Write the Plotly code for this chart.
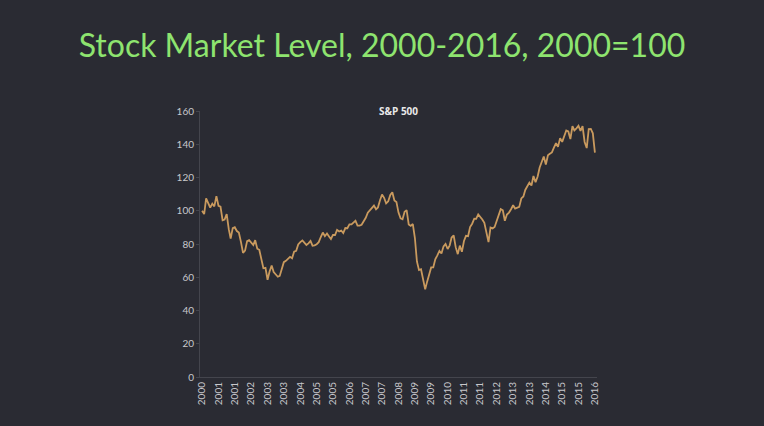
import pandas as pd
import plotly.graph_objects as go

# S&P 500, monthly, 2000 = 100
sp500 = [
    100.0, 98.0, 107.5, 104.2, 101.9, 104.3, 102.6, 108.8, 103.0, 102.5, 94.3, 94.7,   # 2000
    98.0, 88.9, 83.2, 89.6, 90.1, 87.8, 86.9, 81.3, 74.7, 76.0, 81.7, 82.3,            # 2001
    81.1, 79.4, 82.3, 77.2, 76.5, 71.0, 65.4, 65.7, 58.5, 63.5, 67.1, 63.1,            # 2002
    61.4, 60.3, 60.8, 65.8, 69.1, 69.9, 71.0, 72.3, 71.4, 75.4, 75.9, 79.7,            # 2003
    81.1, 82.1, 80.8, 79.4, 80.4, 81.8, 79.0, 79.2, 79.9, 81.1, 84.2, 86.9,            # 2004
    84.7, 86.3, 84.7, 83.0, 85.5, 85.4, 88.5, 87.5, 88.1, 86.6, 89.6, 89.5,            # 2005
    91.8, 91.8, 92.9, 94.0, 91.1, 91.1, 91.6, 93.5, 95.8, 98.8, 100.4, 101.7,          # 2006
    103.1, 100.9, 101.9, 106.3, 109.8, 107.8, 104.4, 105.7, 109.5, 111.1, 106.2, 105.3,  # 2007
    98.9, 95.4, 94.9, 99.4, 100.4, 91.8, 90.9, 92.0, 83.6, 69.5, 64.3, 64.8,           # 2008
    59.2, 52.7, 57.2, 62.6, 65.9, 65.9, 70.8, 73.2, 75.8, 74.3, 78.6, 80.0,            # 2009
    77.0, 79.2, 83.9, 85.1, 78.1, 73.9, 79.0, 75.3, 81.8, 84.9, 84.7, 90.2,            # 2010
    92.2, 95.2, 95.1, 97.8, 96.5, 94.7, 92.7, 87.4, 81.1, 89.9, 89.4, 90.2,            # 2011
    94.1, 97.9, 101.0, 100.3, 94.0, 97.7, 98.9, 100.9, 103.3, 101.3, 101.6, 102.3,     # 2012
    107.4, 108.6, 112.5, 114.6, 116.9, 115.2, 120.9, 117.1, 120.6, 126.0, 129.5, 132.6,  # 2013
    127.8, 133.4, 134.3, 135.1, 137.9, 140.6, 138.5, 143.7, 141.4, 144.7, 148.3, 147.7,  # 2014
    143.1, 150.9, 148.3, 149.6, 151.1, 148.0, 150.9, 141.4, 137.7, 149.1, 149.2, 146.6,  # 2015
    135.0,                                                                              # 2016
]
months = pd.date_range("2000-01-01", periods=len(sp500), freq="MS")

# the source axis labels one tick every 8 months
tick_dates = months[::8]
tick_labels = ["2000", "2001", "2001", "2002", "2003", "2003", "2004", "2005", "2005",
               "2006", "2007", "2007", "2008", "2009", "2009", "2010", "2011", "2011",
               "2012", "2013", "2013", "2014", "2015", "2015", "2016"]

bg = "#2a2b33"

fig = go.Figure(go.Scatter(x=months, y=sp500, mode="lines",
                           line=dict(color="#c99a5e", width=1.8)))

fig.update_layout(
    width=764, height=426,
    paper_bgcolor=bg, plot_bgcolor=bg,
    margin=dict(l=200, r=167, t=111, b=49),
    showlegend=False,
    font=dict(family="Lato", color="#c8c8cc"),
    title=dict(text="Stock Market Level, 2000-2016, 2000=100", x=0.5, xanchor="center",
               y=0.893, yanchor="middle",
               font=dict(family="Lato", size=32, color="#8ee46f")),
    annotations=[dict(text="<b>S&P 500</b>", x=0.5, xref="paper", y=1.0, yref="paper",
                      yanchor="middle", showarrow=False,
                      font=dict(family="Open Sans", size=10, color="#e8e8e8"))],
)
fig.update_xaxes(range=[months[0] - pd.DateOffset(days=31), months[-1] + pd.DateOffset(days=31)],
                 tickvals=tick_dates, ticktext=tick_labels, tickangle=-90,
                 tickfont=dict(size=10, color="#c8c8cc"),
                 showgrid=False, zeroline=False,
                 showline=True, linecolor="#44454d", linewidth=1)
fig.update_yaxes(range=[0, 160], dtick=20, tickfont=dict(size=10, color="#c8c8cc"),
                 showgrid=False, zeroline=False,
                 showline=True, linecolor="#44454d", linewidth=1,
                 ticks="outside", ticklen=3, tickcolor="#44454d")

# drop the page's default body margin so the figure sits flush in the window
fig.write_html("out.html", config={"displayModeBar": False},
               post_script="document.body.style.margin='0';document.body.style.background='#2a2b33';")
